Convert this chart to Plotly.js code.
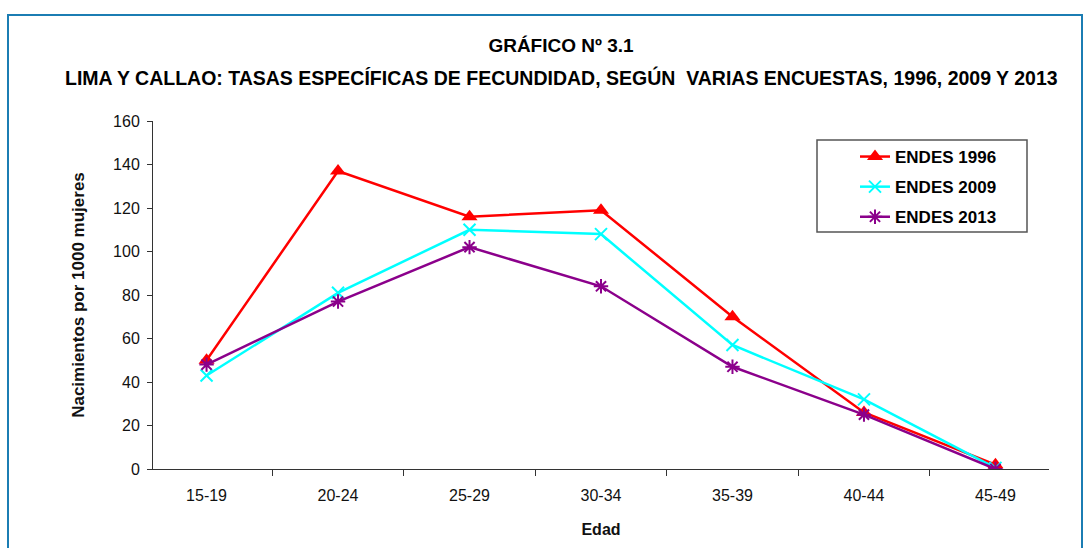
<!DOCTYPE html>
<html>
<head>
<meta charset="utf-8">
<script src="https://cdn.plot.ly/plotly-3.0.1.min.js"></script>
<style>
html,body{margin:0;padding:0;background:#fff;}
#wrap{position:relative;width:1085px;height:548px;}
#chart{width:1085px;height:548px;}
#frame{position:absolute;left:7px;top:14px;width:1076px;height:540px;border:2px solid #1b7db3;box-sizing:border-box;pointer-events:none;}
</style>
</head>
<body>
<div id="wrap"><div id="chart"></div><div id="frame"></div></div>
<script>
const categories = ["15-19","20-24","25-29","30-34","35-39","40-44","45-49"];
const endes1996 = [50, 137, 116, 119, 70, 26, 2];
const endes2009 = [43, 81, 110, 108, 57, 32, 0.5];
const endes2013 = [48, 77, 102, 84, 47, 25, 0];
const seriesNames = ["ENDES 1996","ENDES 2009","ENDES 2013"];
const titleLine1 = 'GRÁFICO Nº 3.1';
const titleLine2 = 'LIMA Y CALLAO: TASAS ESPECÍFICAS DE FECUNDIDAD, SEGÚN  VARIAS ENCUESTAS, 1996, 2009 Y 2013';

const fam = '"Liberation Sans", Arial, sans-serif';
const traces = [
  {x: categories, y: endes1996, name: seriesNames[0], legendgroup: 'a', type: 'scatter', mode: 'lines+markers',
   line: {color: '#ff0000', width: 2.5}, marker: {symbol: 'triangle-up', size: 14, color: '#ff0000'}},
  {x: categories, y: endes2009, name: seriesNames[1], legendgroup: 'b', type: 'scatter', mode: 'lines+markers',
   line: {color: '#00ffff', width: 2.5}, marker: {symbol: 'x-thin', size: 12, color: '#00ffff', line: {color: '#00ffff', width: 2}}},
  {x: categories, y: endes2013, name: seriesNames[2], legendgroup: 'c', type: 'scatter', mode: 'lines+markers',
   line: {color: '#8b008b', width: 2.5}, marker: {symbol: 'asterisk', size: 12, color: '#8b008b', line: {color: '#8b008b', width: 2}}}
];

const px = v => (v - 153) / 896;
const py = v => (469 - v) / 348;

const layout = {
  width: 1085, height: 548,
  margin: {l: 153, r: 36, t: 121, b: 79},
  paper_bgcolor: '#fff', plot_bgcolor: '#fff',
  font: {family: fam, color: '#111', size: 15},
  title: {
    text: '<b>' + titleLine1 + '</b>',
    font: {family: fam, size: 19, color: '#000'},
    x: 561/1085, xanchor: 'center', xref: 'container', y: 1 - 45/548, yanchor: 'middle', yref: 'container'
  },
  annotations: [{
    text: '<b>' + titleLine2 + '</b>', showarrow: false,
    xref: 'paper', yref: 'paper', x: px(561), y: py(77), xanchor: 'center', yanchor: 'middle',
    font: {family: fam, size: 19.5, color: '#000'}
  }],
  shapes: [{
    type: 'rect', xref: 'paper', yref: 'paper', x0: px(817), x1: px(1027), y0: py(232), y1: py(140),
    line: {color: '#555', width: 1.5}, fillcolor: '#fff', layer: 'above'
  }],
  xaxis: {
    type: 'category', tickson: 'boundaries', ticks: 'outside', ticklen: 6, tickcolor: '#333',
    showline: true, linecolor: '#333', linewidth: 1, showgrid: false, zeroline: false,
    tickfont: {family: fam, size: 16, color: '#111'}, ticklabelstandoff: 12,
    title: {text: '<b>Edad</b>', font: {family: fam, size: 16, color: '#111'}, standoff: 20}
  },
  yaxis: {
    range: [0, 160], dtick: 20, ticks: 'outside', ticklen: 5, tickcolor: '#333',
    showline: true, linecolor: '#333', linewidth: 1, showgrid: false, zeroline: false,
    tickfont: {family: fam, size: 16, color: '#111'}, ticklabelstandoff: 4,
    title: {text: '<b>Nacimientos por 1000 mujeres</b>', font: {family: fam, size: 17, color: '#111'}, standoff: 24}
  },
  showlegend: true,
  legend: {
    x: px(855), y: py(139), xanchor: 'left', yanchor: 'top',
    bgcolor: 'rgba(0,0,0,0)', borderwidth: 0,
    font: {family: fam, size: 17, color: '#000', weight: 'bold'},
    tracegroupgap: 5
  }
};

Plotly.newPlot('chart', traces, layout, {displayModeBar: false, staticPlot: true});
</script>
</body>
</html>
